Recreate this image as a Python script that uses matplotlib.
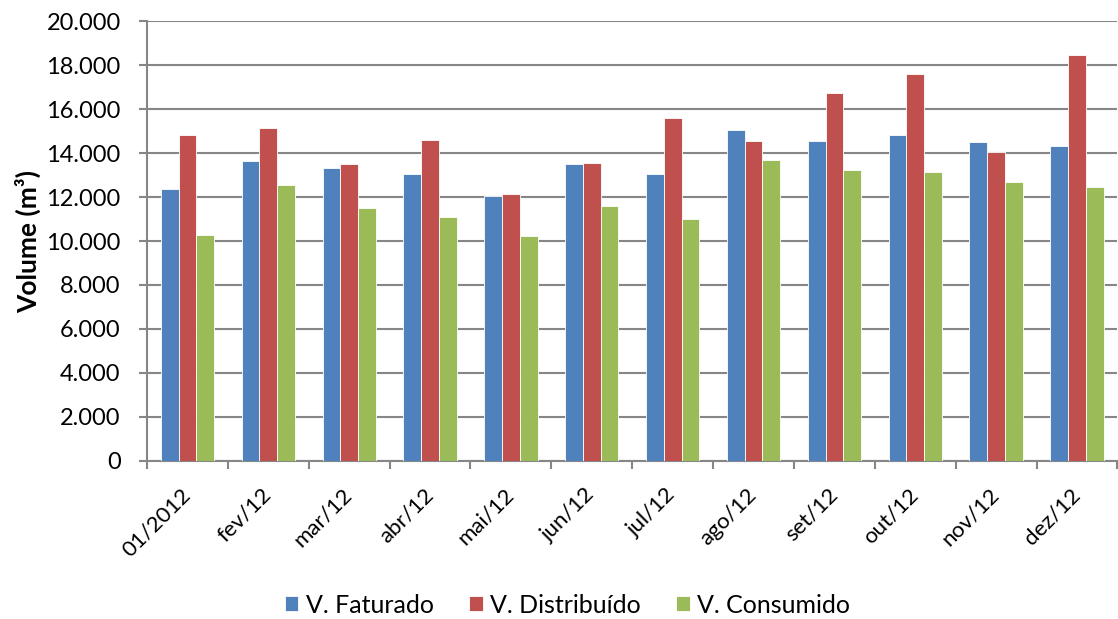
import numpy as np
import matplotlib
matplotlib.use("Agg")
from matplotlib import pyplot as plt
from matplotlib.ticker import FuncFormatter, MultipleLocator
from matplotlib.transforms import ScaledTranslation

plt.rcParams["font.family"] = ["Lato", "DejaVu Sans"]

months = ["01/2012", "fev/12", "mar/12", "abr/12", "mai/12", "jun/12",
          "jul/12", "ago/12", "set/12", "out/12", "nov/12", "dez/12"]
faturado = [12350, 13640, 13320, 13050, 12030, 13490,
            13030, 15060, 14560, 14800, 14500, 14300]
distribuido = [14830, 15120, 13500, 14590, 12150, 13530,
               15590, 14560, 16710, 17590, 14050, 18440]
consumido = [10260, 12560, 11510, 11100, 10230, 11580,
             11010, 13670, 13230, 13120, 12670, 12470]

series = [
    ("V. Faturado", faturado, "#4F81BD"),
    ("V. Distribuído", distribuido, "#C0504D"),
    ("V. Consumido", consumido, "#9BBB59"),
]

grid_color = "#868686"

fig = plt.figure(figsize=(11.18, 6.19), dpi=100)
ax = fig.add_axes([0.1315, 0.2553, 0.868, 0.7107])

x = np.arange(len(months))
width = 0.22
for i, (name, values, color) in enumerate(series):
    ax.bar(x + (i - 1) * width, values, width, color=color, label=name,
           edgecolor="white", linewidth=0.6, zorder=3)

ax.set_xlim(-0.5, len(months) - 0.5)
ax.set_ylim(0, 20000)
ax.yaxis.set_major_locator(MultipleLocator(2000))
ax.yaxis.set_major_formatter(FuncFormatter(lambda v, _: f"{int(v):,}".replace(",", ".")))
ax.grid(axis="y", color=grid_color, linewidth=1.5, zorder=0)

# category ticks sit between the groups, labels at the group centres
ax.set_xticks(np.arange(len(months) + 1) - 0.5)
ax.set_xticklabels([])
ax.set_xticks(x, minor=True)
ax.set_xticklabels(months, minor=True, rotation=45, ha="right", va="center",
                   rotation_mode="anchor", fontsize=16)
shift = ScaledTranslation(-4 / 72, 0, fig.dpi_scale_trans)
for label in ax.get_xticklabels(minor=True):
    label.set_transform(label.get_transform() + shift)
ax.tick_params(axis="x", which="major", length=6, width=1.5, color=grid_color)
ax.tick_params(axis="x", which="minor", length=0, pad=22)
ax.tick_params(axis="y", length=6, width=1.5, color=grid_color, labelsize=17, pad=13)

for side in ("top", "right"):
    ax.spines[side].set_visible(False)
for side in ("left", "bottom"):
    ax.spines[side].set_color(grid_color)
    ax.spines[side].set_linewidth(1.5)

ax.set_ylabel("Volume (m³)", fontsize=19, fontweight="bold", labelpad=4)

fig.legend(loc="center", bbox_to_anchor=(0.5076, 0.0226), ncol=3, frameon=False,
           fontsize=18, handlelength=0.55, handleheight=0.55, columnspacing=1.4,
           handletextpad=0.3, borderpad=0)

fig.savefig("out.png", dpi=100)
